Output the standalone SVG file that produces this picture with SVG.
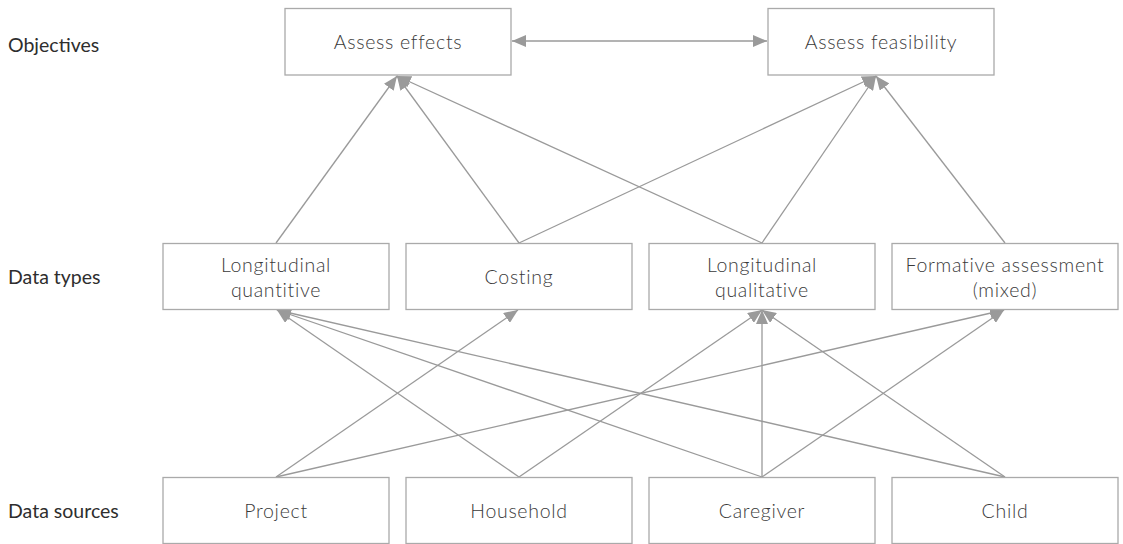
<svg xmlns="http://www.w3.org/2000/svg" width="1123" height="544" viewBox="0 0 1123 544">
<style>
.box{fill:#fff;stroke:#aaa;stroke-width:1.3}
.bt{font-family:Lato,"Open Sans","Liberation Sans",sans-serif;font-weight:300;font-size:19.5px;letter-spacing:0.7px;fill:#3a3a3a;text-anchor:middle}
.lbl{font-family:Lato,"Liberation Sans",sans-serif;font-size:19.5px;fill:#2e2e2e}
.c{stroke:#9a9a9a;stroke-width:1.3;fill:none;marker-end:url(#ah)}
</style>
<defs>
<marker id="ah" viewBox="0 0 14 12" refX="14" refY="6" markerWidth="14" markerHeight="12" markerUnits="userSpaceOnUse" orient="auto-start-reverse">
<path d="M0,0 L14,6 L0,12 z" fill="#9a9a9a"/>
</marker>
</defs>
<rect width="1123" height="544" fill="#fff"/>
<g id="labels">
<text class="lbl" x="8" y="52">Objectives</text>
<text class="lbl" x="8" y="284">Data types</text>
<text class="lbl" x="8" y="518">Data sources</text>
</g>
<g id="connectors">
<line class="c" x1="512" y1="41" x2="767" y2="41" marker-start="url(#ah)"/>
<line class="c" x1="276" y1="243" x2="397" y2="76"/>
<line class="c" x1="519" y1="243" x2="397" y2="76"/>
<line class="c" x1="762" y1="243" x2="397" y2="76"/>
<line class="c" x1="519" y1="243" x2="876" y2="76"/>
<line class="c" x1="762" y1="243" x2="876" y2="76"/>
<line class="c" x1="1005" y1="243" x2="876" y2="76"/>
<line class="c" x1="519" y1="477" x2="277" y2="310"/>
<line class="c" x1="762" y1="477" x2="277" y2="310"/>
<line class="c" x1="1005" y1="477" x2="277" y2="310"/>
<line class="c" x1="276" y1="477" x2="518" y2="310"/>
<line class="c" x1="519" y1="477" x2="762" y2="310"/>
<line class="c" x1="762" y1="477" x2="762" y2="310"/>
<line class="c" x1="1005" y1="477" x2="762" y2="310"/>
<line class="c" x1="276" y1="477" x2="1004" y2="310"/>
<line class="c" x1="762" y1="477" x2="1004" y2="310"/>
</g>
<g id="assess-effects"><rect class="box" x="285" y="8.5" width="226" height="66.5"/><text class="bt" x="398" y="49">Assess effects</text></g>
<g id="assess-feasibility"><rect class="box" x="768" y="8.5" width="226" height="66.5"/><text class="bt" x="881" y="49">Assess feasibility</text></g>
<g id="long-quant"><rect class="box" x="163" y="243.5" width="226" height="66"/><text class="bt" x="276" y="272">Longitudinal</text><text class="bt" x="276" y="297">quantitive</text></g>
<g id="costing"><rect class="box" x="406" y="243.5" width="226" height="66"/><text class="bt" x="519" y="284">Costing</text></g>
<g id="long-qual"><rect class="box" x="649" y="243.5" width="226" height="66"/><text class="bt" x="762" y="272">Longitudinal</text><text class="bt" x="762" y="297">qualitative</text></g>
<g id="formative"><rect class="box" x="892" y="243.5" width="226" height="66"/><text class="bt" x="1005" y="272">Formative assessment</text><text class="bt" x="1005" y="297">(mixed)</text></g>
<g id="project"><rect class="box" x="163" y="477.5" width="226" height="66"/><text class="bt" x="276" y="518">Project</text></g>
<g id="household"><rect class="box" x="406" y="477.5" width="226" height="66"/><text class="bt" x="519" y="518">Household</text></g>
<g id="caregiver"><rect class="box" x="649" y="477.5" width="226" height="66"/><text class="bt" x="762" y="518">Caregiver</text></g>
<g id="child"><rect class="box" x="892" y="477.5" width="226" height="66"/><text class="bt" x="1005" y="518">Child</text></g>
</svg>
